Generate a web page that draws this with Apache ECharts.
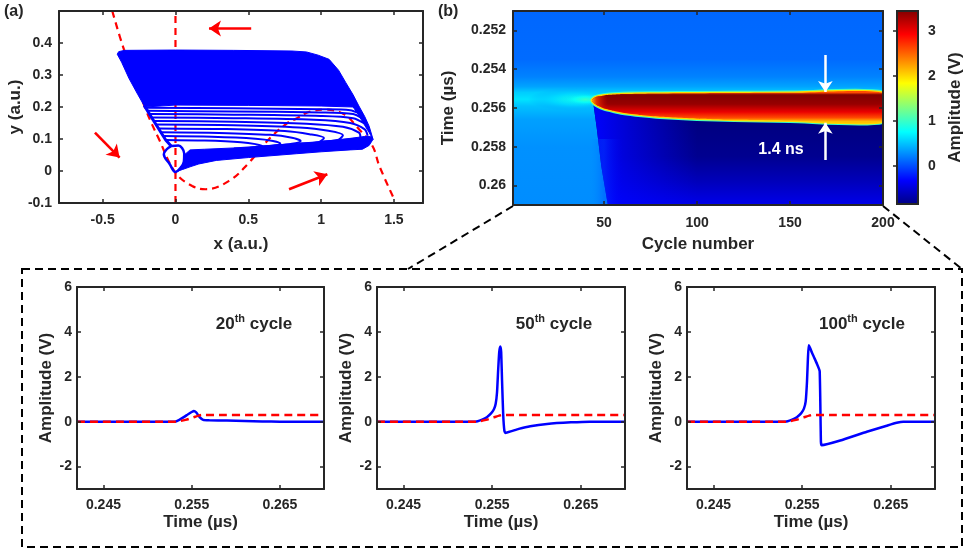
<!DOCTYPE html>
<html><head><meta charset="utf-8">
<script src="https://cdn.jsdelivr.net/npm/echarts@6/dist/echarts.min.js"></script>
<style>html,body{margin:0;padding:0;background:#fff}#c{width:965px;height:551px}</style>
</head><body><div id="c"></div><script>
// ================= DATA =================
// ---- panel (a): phase portrait ----
const aXRange = [-0.8, 1.7], aYRange = [-0.1, 0.5];
const aXTicks = [-0.5, 0, 0.5, 1, 1.5];
const aYTicks = [-0.1, 0, 0.1, 0.2, 0.3, 0.4];
const ncVertX = [0, 0], ncVertY = [-0.1, 0.5];
const ncCubicX = [-0.434, -0.354, -0.205, -0.113, 0.0, 0.115, 0.207, 0.368, 0.505, 0.62, 0.757, 0.835, 0.92, 1.03, 1.158, 1.25, 1.353, 1.40, 1.502];
const ncCubicY = [0.5, 0.38, 0.193, 0.099, -0.005, -0.047, -0.057, -0.031, 0.026, 0.089, 0.146, 0.165, 0.185, 0.192, 0.177, 0.136, 0.078, 0.016, -0.088];
// dense part of the trajectories (upper sheet)
const trajUpperX = [-0.40, -0.39, -0.35, 0.0, 0.4, 0.8, 0.9, 0.98, 1.055, 1.12, 1.17, 1.22, 1.26, 1.30, 1.33, 1.357, 1.33, 1.29, 1.25, 1.22, 1.0, 0.5, 0.0, -0.21, -0.26, -0.32, -0.37];
const trajUpperY = [0.365, 0.373, 0.377, 0.378, 0.377, 0.375, 0.372, 0.362, 0.349, 0.315, 0.276, 0.238, 0.203, 0.17, 0.14, 0.099, 0.12, 0.15, 0.18, 0.2, 0.203, 0.205, 0.206, 0.2, 0.24, 0.29, 0.34];
// dense lower return band
const trajLowerX = [0.0, 0.05, 0.1, 0.16, 0.28, 0.5, 0.83, 1.0, 1.2, 1.284, 1.33, 1.357, 1.34, 1.3, 1.2, 1.0, 0.8, 0.6, 0.4, 0.2, 0.1, 0.06, 0.055, 0.03];
const trajLowerY = [-0.003, 0.005, 0.013, 0.022, 0.033, 0.042, 0.054, 0.06, 0.066, 0.068, 0.08, 0.099, 0.108, 0.108, 0.102, 0.092, 0.085, 0.078, 0.072, 0.068, 0.066, 0.05, 0.025, 0.008];
// small initial loop near origin
const smallLoopX = [-0.03, -0.06, -0.08, -0.04, 0.0, 0.035, 0.058, 0.06, 0.045, 0.02, -0.03];
const smallLoopY = [0.078, 0.068, 0.052, 0.022, -0.003, 0.01, 0.03, 0.055, 0.072, 0.08, 0.078];
// left converging edge
const leftEdgeX = [-0.215, -0.15, -0.067, -0.03];
const leftEdgeY = [0.205, 0.157, 0.097, 0.078];
// individual (separated) cycles below the dense sheet
const trajLoops = [
  [[-0.207,0.198],[0.4,0.196],[1.0,0.193],[1.2,0.19],[1.26,0.18]],
  [[-0.193,0.188],[0.4,0.186],[1.0,0.183],[1.22,0.178],[1.28,0.165]],
  [[-0.179,0.178],[0.4,0.176],[1.0,0.172],[1.22,0.165],[1.3,0.148]],
  [[-0.164,0.167],[0.4,0.165],[0.95,0.16],[1.2,0.15],[1.3,0.13],[1.32,0.11]],
  [[-0.149,0.156],[0.4,0.154],[0.9,0.148],[1.15,0.138],[1.26,0.12],[1.27,0.105],[1.2,0.1]],
  [[-0.133,0.145],[0.4,0.143],[0.85,0.136],[1.05,0.126],[1.15,0.112],[1.12,0.098],[1.0,0.092]],
  [[-0.117,0.133],[0.35,0.131],[0.75,0.125],[0.92,0.115],[1.02,0.103],[0.98,0.09],[0.85,0.086]],
  [[-0.1,0.121],[0.3,0.119],[0.65,0.113],[0.8,0.104],[0.86,0.094],[0.8,0.085],[0.7,0.08]],
  [[-0.083,0.109],[0.25,0.107],[0.55,0.101],[0.67,0.094],[0.72,0.086],[0.66,0.079],[0.55,0.076]],
  [[-0.067,0.097],[0.2,0.095],[0.45,0.09],[0.55,0.084],[0.6,0.077],[0.5,0.072],[0.4,0.07]]
];
const flowArrows = [
  [[0.52, 0.445], [0.23, 0.445]],
  [[-0.553, 0.12], [-0.384, 0.042]],
  [[0.78, -0.057], [1.043, -0.01]]
];

// ---- panel (b): amplitude map ----
const hmXRange = [1, 200], hmYRange = [0.251, 0.261];
const hmXTicks = [50, 100, 150, 200];
const hmYTicks = [0.252, 0.254, 0.256, 0.258, 0.26];
const colorLimits = [-0.85, 3.45];
const cbTicks = [0, 1, 2, 3];
// amplitude vs time in the region without spike (before threshold / above spike)
const bgTime = [0.251, 0.2535, 0.2544, 0.2549, 0.2552, 0.25555, 0.2559, 0.2566, 0.2580, 0.261];
const bgAmp  = [0.12, 0.14, 0.24, 0.38, 0.55, 0.65, 0.5, 0.36, 0.3, 0.28];
// spike band edges per cycle
const bandCycle  = [43.5, 45, 47, 50, 55, 60, 70, 80, 100, 120, 150, 200];
const bandTop    = [0.25558, 0.25546, 0.25540, 0.25535, 0.25531, 0.25528, 0.25526, 0.25525, 0.25524, 0.25523, 0.25522, 0.25522];
const bandBottom = [0.25562, 0.25578, 0.25590, 0.25602, 0.25614, 0.25624, 0.25636, 0.25645, 0.25655, 0.25661, 0.25666, 0.25670];
const bandGradTime = [0.2552, 0.25532, 0.2558, 0.2562, 0.2565, 0.2567];
const bandGradAmp  = [2.6, 3.45, 3.35, 3.0, 2.6, 2.1];
const tipCycle = [43.5, 46, 52], tipAmp = [2.2, 2.6, 3.0];
// undershoot region after the spike
const lowEdgeCycle = [44, 46, 48.5, 52];
const lowEdgeTime  = [0.25562, 0.257, 0.259, 0.261];
const lowGradTime  = [0.2556, 0.2567, 0.2585, 0.2598, 0.261];
const lowGradAmp   = [-0.85, -0.85, -0.78, -0.6, -0.4];
const lowLeftCycle = [46, 65, 100], lowLeftAmp = [-0.3, -0.3, -0.3];
// soft transition at the lower-left edge of the undershoot
const softEdgeCycle = [42, 50, 60], softEdgeAmp = [0.28, 0.0, -0.3];
const softEdgeTime = [0.2576, 0.261];
// glow near the onset of the spike (center cycle/time, half-widths, amplitudes centre->edge)
const glowCenter = [35, 0.25556], glowRadius = [26, 0.0006], glowAmp = [0.85, 0.6, 0.35];
const glowCoreCenter = [40, 0.25556], glowCoreRadius = [12, 0.0003], glowCoreAmp = [1.0, 0.8, 0.6];
const widthArrows = [
  [[169, 0.25327], [169, 0.25518]],
  [[169, 0.25868], [169, 0.25676]]
];

// ---- bottom panels: waveforms ----
const wXRange = [0.242, 0.27], wYRange = [-3, 6];
const wXTicks = [0.245, 0.255, 0.265], wYTicks = [-2, 0, 2, 4, 6];
const t20 = [0.242, 0.2531, 0.2536, 0.2541, 0.2546, 0.2550, 0.25525, 0.2555, 0.2559, 0.2563, 0.2570, 0.2590, 0.2610, 0.2630, 0.2650, 0.270];
const v20 = [0, 0, 0.08, 0.2, 0.33, 0.43, 0.48, 0.42, 0.2, 0.08, 0.06, 0.05, 0.03, 0.01, 0, 0];
const t50 = [0.242, 0.2531, 0.2538, 0.2544, 0.2549, 0.2552, 0.2554, 0.25555, 0.25568, 0.2558, 0.25592, 0.25602, 0.25612, 0.25625, 0.25638, 0.2565, 0.2572, 0.2580, 0.2593, 0.2612, 0.2639, 0.2660, 0.270];
const v50 = [0, 0, 0.08, 0.2, 0.38, 0.55, 0.8, 1.3, 2.3, 3.1, 3.35, 3.1, 1.8, 0.3, -0.4, -0.5, -0.42, -0.32, -0.2, -0.1, -0.03, 0, 0];
const t100 = [0.242, 0.2531, 0.2538, 0.2544, 0.2549, 0.2552, 0.2554, 0.25555, 0.25565, 0.25574, 0.2559, 0.2561, 0.2564, 0.2567, 0.25698, 0.25712, 0.25722, 0.2593, 0.2623, 0.26455, 0.26567, 0.26642, 0.270];
const v100 = [0, 0, 0.08, 0.2, 0.38, 0.58, 0.9, 1.8, 2.8, 3.4, 3.28, 3.08, 2.82, 2.55, 2.25, -0.9, -1.05, -0.84, -0.45, -0.18, -0.05, 0, 0];
const thrT = [0.242, 0.2531, 0.2537, 0.2543, 0.2549, 0.2554, 0.2558, 0.2562, 0.270];
const thrV = [0, 0, 0.03, 0.08, 0.15, 0.22, 0.27, 0.3, 0.3];
const waveTitles = [['20', 'th', ' cycle'], ['50', 'th', ' cycle'], ['100', 'th', ' cycle']];

// ================= HELPERS =================
const FONT = "'Liberation Sans', Arial, sans-serif";
const ink = '#262626';
const BLUE = '#0000ff', RED = '#ff0000';
const zip = (xs, ys) => xs.map((x, i) => [x, ys[i]]);

function jet(t) {
  t = Math.max(0, Math.min(1, t));
  const c = x => Math.max(0, Math.min(1, x));
  return [c(Math.min(4 * t - 1.5, -4 * t + 4.5)), c(Math.min(4 * t - 0.5, -4 * t + 3.5)), c(Math.min(4 * t + 0.5, -4 * t + 2.5))];
}
function ampColor(v, a) {
  const t = (v - colorLimits[0]) / (colorLimits[1] - colorLimits[0]);
  const [r, g, b] = jet(t);
  return 'rgba(' + Math.round(r * 255) + ',' + Math.round(g * 255) + ',' + Math.round(b * 255) + ',' + (a == null ? 1 : a) + ')';
}

const xAxes = [], yAxes = [];
const lbl = (size, margin) => ({ color: ink, fontSize: size, fontWeight: 'bold', fontFamily: FONT, margin: margin });
function frameAxes(gi, xr, yr, xt, yt, o) {
  const base = (range, ticks, pos, showLabel, extra) => Object.assign({
    type: 'value', gridIndex: gi, min: range[0], max: range[1], position: pos, z: 5,
    axisLine: { show: true, onZero: false, lineStyle: { color: ink, width: 2 } },
    axisTick: { show: true, inside: true, length: 4, customValues: ticks, lineStyle: { color: ink, width: 1.5 } },
    axisLabel: Object.assign({ show: showLabel, customValues: ticks }, lbl(o.fs, pos === 'bottom' ? o.xm : o.ym)),
    splitLine: { show: false }
  }, extra || {});
  const nameStyle = { color: ink, fontSize: o.nfs, fontWeight: 'bold', fontFamily: FONT };
  const xi = xAxes.length, yi = yAxes.length;
  xAxes.push(base(xr, xt, 'bottom', true, { name: o.xname, nameLocation: 'middle', nameGap: o.xng, nameTextStyle: nameStyle }));
  xAxes.push(base(xr, xt, 'top', false));
  yAxes.push(base(yr, yt, 'left', true, { inverse: !!o.inv, name: o.yname, nameLocation: 'middle', nameRotate: 90, nameGap: o.yng, nameTextStyle: nameStyle }));
  yAxes.push(base(yr, yt, 'right', false, { inverse: !!o.inv }));
  return [xi, yi];
}

const grids = [
  { left: 59, top: 11, width: 364, height: 192 },
  { left: 513, top: 11, width: 370, height: 194 },
  { left: 897, top: 11, width: 24, height: 193 },
  { left: 77, top: 287, width: 247, height: 202 },
  { left: 377, top: 287, width: 248, height: 202 },
  { left: 687, top: 287, width: 248, height: 202 }
];

const A = frameAxes(0, aXRange, aYRange, aXTicks, aYTicks, { fs: 14, xm: 10, ym: 7, nfs: 17, xname: 'x (a.u.)', xng: 33, yname: 'y (a.u.)', yng: 30 });
const B = frameAxes(1, hmXRange, hmYRange, hmXTicks, hmYTicks, { fs: 14, xm: 11, ym: 7, nfs: 17, xname: 'Cycle number', xng: 31, yname: 'Time (µs)', yng: 56, inv: true });
// colorbar axes
const CBx = xAxes.length; xAxes.push({ type: 'value', gridIndex: 2, min: 0, max: 1, show: false });
const CBy = yAxes.length; yAxes.push({
  type: 'value', gridIndex: 2, min: colorLimits[0], max: colorLimits[1], position: 'right', z: 5,
  axisLine: { show: false },
  axisTick: { show: true, inside: true, length: 4, customValues: cbTicks, lineStyle: { color: ink, width: 1.5 } },
  axisLabel: Object.assign({ customValues: cbTicks }, lbl(14, 10)),
  splitLine: { show: false },
  name: 'Amplitude (V)', nameLocation: 'middle', nameRotate: 90, nameGap: 29,
  nameTextStyle: { color: ink, fontSize: 17, fontWeight: 'bold', fontFamily: FONT }
});
const W = [3, 4, 5].map(g => frameAxes(g, wXRange, wYRange, wXTicks, wYTicks, { fs: 14, xm: 9, ym: 5, nfs: 17, xname: 'Time (µs)', xng: 25, yname: 'Amplitude (V)', yng: 22 }));

// ================= SERIES =================
const series = [];
const P = (api, x, y) => api.coord([x, y]);
// panel (a)
series.push({ type: 'line', xAxisIndex: A[0], yAxisIndex: A[1], data: zip(ncVertX, ncVertY), showSymbol: false, silent: true, z: 2,
  lineStyle: { color: RED, width: 2.2, type: [7, 5] } });
series.push({ type: 'line', xAxisIndex: A[0], yAxisIndex: A[1], data: zip(ncCubicX, ncCubicY), showSymbol: false, silent: true, z: 2, smooth: 0.4,
  lineStyle: { color: RED, width: 2.2, type: [7, 5] } });
series.push({ type: 'custom', xAxisIndex: A[0], yAxisIndex: A[1], data: [[0, 0]], clip: true, silent: true, z: 3,
  renderItem: (p, api) => ({ type: 'group', children: [
    { type: 'polygon', shape: { points: trajUpperX.map((x, i) => P(api, x, trajUpperY[i])) }, style: { fill: BLUE, stroke: BLUE, lineWidth: 1 } },
    { type: 'polygon', shape: { points: trajLowerX.map((x, i) => P(api, x, trajLowerY[i])) }, style: { fill: BLUE, stroke: BLUE, lineWidth: 1 } }
  ] }) });
trajLoops.forEach(loop => series.push({ type: 'line', xAxisIndex: A[0], yAxisIndex: A[1], data: loop, showSymbol: false, silent: true, z: 3, smooth: 0.3,
  lineStyle: { color: BLUE, width: 2 } }));
series.push({ type: 'line', xAxisIndex: A[0], yAxisIndex: A[1], data: zip(smallLoopX, smallLoopY), showSymbol: false, silent: true, z: 3, smooth: 0.4,
  lineStyle: { color: BLUE, width: 2.5 } });
series.push({ type: 'line', xAxisIndex: A[0], yAxisIndex: A[1], data: zip(leftEdgeX, leftEdgeY), showSymbol: false, silent: true, z: 3,
  lineStyle: { color: BLUE, width: 3 } });
series.push({ type: 'lines', coordinateSystem: 'cartesian2d', xAxisIndex: A[0], yAxisIndex: A[1], silent: true, z: 4,
  symbol: ['none', 'arrow'], symbolSize: 12,
  lineStyle: { color: RED, width: 2.6, opacity: 1 }, data: flowArrows.map(c => ({ coords: c })) });

// panel (b) map
series.push({ type: 'custom', xAxisIndex: B[0], yAxisIndex: B[1], data: [[hmXRange[0], hmYRange[0]]], clip: true, silent: true, z: 1,
  renderItem: (p, api) => {
    const Q = (c, t) => api.coord([c, t]);
    const tl = Q(hmXRange[0], hmYRange[0]), br = Q(hmXRange[1], hmYRange[1]);
    const vgrad = (times, amps, alphas) => {
      const y0 = Q(hmXRange[0], times[0])[1], y1 = Q(hmXRange[0], times[times.length - 1])[1];
      return { type: 'linear', x: 0, y: y0, x2: 0, y2: y1, global: true,
        colorStops: times.map((t, i) => ({ offset: (Q(hmXRange[0], t)[1] - y0) / (y1 - y0), color: ampColor(amps[i], alphas ? alphas[i] : 1) })) };
    };
    const hgrad = (cycles, amps, alphas) => {
      const x0 = Q(cycles[0], hmYRange[0])[0], x1 = Q(cycles[cycles.length - 1], hmYRange[0])[0];
      return { type: 'linear', x: x0, y: 0, x2: x1, y2: 0, global: true,
        colorStops: cycles.map((c, i) => ({ offset: (Q(c, hmYRange[0])[0] - x0) / (x1 - x0), color: ampColor(amps[i], alphas ? alphas[i] : 1) })) };
    };
    // elliptical glow: unit circle scaled to the ellipse, radial gradient in local coordinates
    const glow = (center, radius, amps, alphas) => {
      const gc = Q(center[0], center[1]);
      const rx = Math.abs(Q(center[0] + radius[0], center[1])[0] - gc[0]);
      const ry = Math.abs(Q(center[0], center[1] + radius[1])[1] - gc[1]);
      return { type: 'circle', shape: { cx: 0, cy: 0, r: 1 }, x: gc[0], y: gc[1], scaleX: rx, scaleY: ry,
        style: { fill: { type: 'radial', x: 0.5, y: 0.5, r: 0.5, colorStops: [
          { offset: 0, color: ampColor(amps[0], alphas[0]) }, { offset: 0.5, color: ampColor(amps[1], alphas[1]) }, { offset: 1, color: ampColor(amps[2], alphas[2]) }] } } };
    };
    const ch = [];
    ch.push({ type: 'rect', shape: { x: tl[0], y: tl[1], width: br[0] - tl[0], height: br[1] - tl[1] }, style: { fill: vgrad(bgTime, bgAmp) } });
    ch.push(glow(glowCenter, glowRadius, glowAmp, [1, 0.75, 0]));
    ch.push(glow(glowCoreCenter, glowCoreRadius, glowCoreAmp, [1, 0.85, 0]));
    const lowPts = bandCycle.map((c, i) => Q(c, bandBottom[i]));
    lowPts.push(Q(hmXRange[1], hmYRange[1]));
    for (let i = lowEdgeCycle.length - 1; i >= 0; i--) lowPts.push(Q(lowEdgeCycle[i], lowEdgeTime[i]));
    ch.push({ type: 'polygon', shape: { points: lowPts }, style: { fill: vgrad(lowGradTime, lowGradAmp) } });
    ch.push({ type: 'polygon', shape: { points: lowPts }, style: { fill: hgrad(lowLeftCycle, lowLeftAmp, [0.95, 0.6, 0]) } });
    // soft lower-left transition
    const s0 = Q(softEdgeCycle[0], softEdgeTime[0]), s1 = Q(softEdgeCycle[2], softEdgeTime[1]);
    ch.push({ type: 'rect', shape: { x: s0[0], y: s0[1], width: s1[0] - s0[0], height: s1[1] - s0[1] },
      style: { fill: hgrad(softEdgeCycle, softEdgeAmp, [0, 0.4, 0]) } });
    const bandPts = bandCycle.map((c, i) => Q(c, bandTop[i]));
    for (let i = bandCycle.length - 1; i >= 0; i--) bandPts.push(Q(bandCycle[i], bandBottom[i]));
    ch.push({ type: 'polygon', shape: { points: bandPts, smooth: 0.2 }, style: { fill: 'none', stroke: ampColor(1.0), lineWidth: 4.5, lineJoin: 'round' } });
    ch.push({ type: 'polygon', shape: { points: bandPts, smooth: 0.2 }, style: { fill: 'none', stroke: ampColor(2.0), lineWidth: 2.6, lineJoin: 'round' } });
    ch.push({ type: 'polygon', shape: { points: bandPts, smooth: 0.2 }, style: { fill: vgrad(bandGradTime, bandGradAmp) } });
    ch.push({ type: 'polygon', shape: { points: bandPts, smooth: 0.2 }, style: { fill: hgrad(tipCycle, tipAmp, [1, 0.7, 0]) } });
    return { type: 'group', children: ch };
  } });
series.push({ type: 'lines', coordinateSystem: 'cartesian2d', xAxisIndex: B[0], yAxisIndex: B[1], silent: true, z: 6,
  symbol: ['none', 'arrow'], symbolSize: 11,
  lineStyle: { color: '#ffffff', width: 2.5, opacity: 1 }, data: widthArrows.map(c => ({ coords: c })) });
// colorbar
series.push({ type: 'custom', xAxisIndex: CBx, yAxisIndex: CBy, data: [[0, 0]], silent: true, z: 1,
  renderItem: (p, api) => {
    const a = api.coord([0, colorLimits[1]]), b = api.coord([1, colorLimits[0]]);
    const ts = [1, 0.875, 0.625, 0.375, 0.125, 0];
    const stops = ts.map(t => ({ offset: 1 - t, color: ampColor(colorLimits[0] + t * (colorLimits[1] - colorLimits[0])) }));
    return { type: 'rect', shape: { x: a[0], y: a[1], width: b[0] - a[0], height: b[1] - a[1] },
      style: { fill: { type: 'linear', x: 0, y: 0, x2: 0, y2: 1, colorStops: stops }, stroke: ink, lineWidth: 2 } };
  } });

// waveforms
const waves = [[t20, v20], [t50, v50], [t100, v100]];
waves.forEach((w, k) => {
  series.push({ type: 'line', xAxisIndex: W[k][0], yAxisIndex: W[k][1], data: zip(w[0], w[1]), showSymbol: false, silent: true, z: 2, smooth: 0.15,
    lineStyle: { color: BLUE, width: 2.5 } });
  series.push({ type: 'line', xAxisIndex: W[k][0], yAxisIndex: W[k][1], data: zip(thrT, thrV), showSymbol: false, silent: true, z: 3, smooth: 0.3,
    lineStyle: { color: RED, width: 2.5, type: [8, 5] } });
});

// ================= GRAPHICS (annotations) =================
const tTxt = (x, y, parts) => ({ type: 'text', x: x, y: y, silent: true, z: 10, style: {
  text: '{a|' + parts[0] + '}{s|' + parts[1] + '}{a|' + parts[2] + '}', align: 'center', verticalAlign: 'middle',
  rich: { a: { fontSize: 17, fontWeight: 'bold', fontFamily: FONT, fill: ink, color: ink, verticalAlign: 'bottom', lineHeight: 20 },
          s: { fontSize: 11, fontWeight: 'bold', fontFamily: FONT, fill: ink, color: ink, verticalAlign: 'top', lineHeight: 20 } } } });
const dash = { stroke: '#000', lineWidth: 2, lineDash: [8, 5], fill: 'none' };
const graphic = [
  { type: 'text', x: 4, y: 4, silent: true, style: { text: '(a)', font: 'bold 16px ' + FONT, fill: ink } },
  { type: 'text', x: 438, y: 4, silent: true, style: { text: '(b)', font: 'bold 16px ' + FONT, fill: ink } },
  { type: 'rect', silent: true, shape: { x: 22, y: 269, width: 940, height: 278 }, style: dash },
  { type: 'line', silent: true, shape: { x1: 513, y1: 206, x2: 408, y2: 269 }, style: dash },
  { type: 'line', silent: true, shape: { x1: 883, y1: 206, x2: 962, y2: 269 }, style: dash },
  { type: 'text', x: 781, y: 150, silent: true, z: 10, style: { text: '1.4 ns', font: 'bold 16px ' + FONT, fill: '#ffffff', align: 'center', verticalAlign: 'middle' } },
  tTxt(254, 323, waveTitles[0]), tTxt(554, 323, waveTitles[1]), tTxt(862, 323, waveTitles[2])
];

const chart = echarts.init(document.getElementById('c'), null, { renderer: 'canvas' });
chart.setOption({ animation: false, backgroundColor: '#ffffff', grid: grids, xAxis: xAxes, yAxis: yAxes, series: series, graphic: graphic });
</script></body></html>
